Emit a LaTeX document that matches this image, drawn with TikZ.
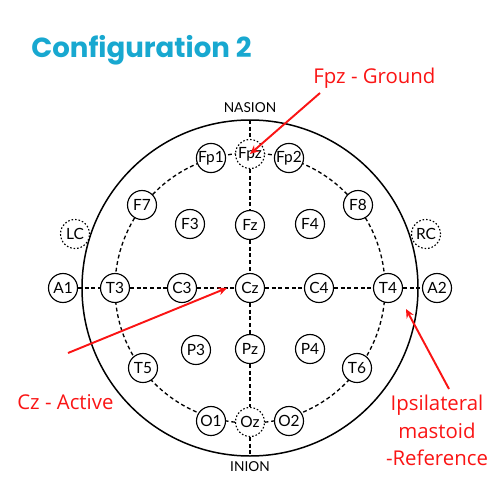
\documentclass[tikz,border=0pt]{standalone}
\usepackage{fontspec}
\setmainfont{Lato}
\newfontfamily\titlefont{Poppins}
\newfontfamily\notefont{Open Sans}
\usetikzlibrary{arrows.meta}
\definecolor{titleblue}{RGB}{24,168,208}
\definecolor{notered}{RGB}{250,20,20}

\begin{document}
\begin{tikzpicture}[x=0.02cm, y=-0.02cm, >={Stealth[length=5pt,width=4.5pt]}]

		\useasboundingbox (0,0) rectangle (500,500);
		\tikzset{
			electrode/.style={circle, draw=black, line width=0.65pt, fill=white, minimum size=0.58cm, inner sep=0pt, font=\fontsize{8.8}{10}\selectfont},
			ghost/.style={electrode, dash pattern=on 0.9pt off 1.1pt},
			grid line/.style={line width=0.75pt, dash pattern=on 2.2pt off 1.6pt},
			pointer/.style={->, draw=notered, line width=1.1pt},
			note/.style={text=notered, font=\notefont\fontsize{11.6}{15.6}\selectfont, inner sep=0pt}
		}

		% Title
		\node[anchor=base west, inner sep=0pt, text=titleblue, font=\titlefont\bfseries\fontsize{15.7}{18}\selectfont] (title) at (31, 58) {Configuration 2};

		% The head and the 10-20 circle
		\coordinate (centre) at (250, 288);
		\coordinate (top) at (250, 120);
		\coordinate (bottom) at (250, 456);
		\draw[line width=0.85pt] (centre) circle (168);
		\draw[grid line] (centre) circle (135);

		\node[font=\fontsize{7.8}{9}\selectfont] (nasion) at (250, 108) {NASION};
		\node[font=\fontsize{7.8}{9}\selectfont] (inion)  at (250, 467) {INION};

		% Electrodes
		\node[ghost]     (Fpz) at (250, 154) {Fpz};
		\node[electrode] (Fp1) at (211, 158) {Fp1};
		\node[electrode] (Fp2) at (289, 158) {Fp2};

		\node[electrode] (F7) at (142, 205) {F7};
		\node[electrode] (F3) at (190, 224) {F3};
		\node[electrode] (Fz) at (250, 225) {Fz};
		\node[electrode] (F4) at (310, 224) {F4};
		\node[electrode] (F8) at (358, 205) {F8};
		\node[ghost]     (LC) at (75, 234)  {LC};
		\node[ghost]     (RC) at (426, 234) {RC};

		\node[electrode] (A1) at (63, 288)  {A1};
		\node[electrode] (T3) at (115, 288) {T3};
		\node[electrode] (C3) at (182, 288) {C3};
		\node[electrode] (Cz) at (250, 288) {Cz};
		\node[electrode] (C4) at (319, 288) {C4};
		\node[electrode] (T4) at (388, 288) {T4};
		\node[electrode] (A2) at (437, 288) {A2};

		\node[electrode] (P3) at (196, 350) {P3};
		\node[electrode] (Pz) at (250, 349) {Pz};
		\node[electrode] (P4) at (310, 349) {P4};
		\node[electrode] (T5) at (143, 368) {T5};
		\node[electrode] (T6) at (357, 368) {T6};

		\node[electrode] (O1) at (211, 421) {O1};
		\node[ghost]     (Oz) at (250, 422) {Oz};
		\node[electrode] (O2) at (289, 421) {O2};

		% Midlines
		\foreach \a/\b in {top/Fpz, Fpz/Fz, Fz/Cz, Cz/Pz, Pz/Oz, Oz/bottom,
			A1/T3, T3/C3, C3/Cz, Cz/C4, C4/T4, T4/A2}
			\draw[grid line] (\a) -- (\b);

		% Notes
		\node[note, anchor=base west] (ground) at (313, 84) {Fpz - Ground};
		\node[note, anchor=base west] (active) at (17, 409) {Cz - Active};
		\node[note, anchor=north, align=center] (reference) at (437, 395) {Ipsilateral\\mastoid\\-Reference};

		\coordinate (ground tail) at (320, 93);
		\coordinate (active tail) at (68, 353);
		\coordinate (active tip)  at (227, 288);
		\coordinate (ref tail)    at (449, 389);
		\coordinate (ref tip)     at (406, 309);

		\draw[pointer] (ground tail) -- (Fpz.center);
		\draw[pointer] (active tail) -- (active tip);
		\draw[pointer] (ref tail) -- (ref tip);

\end{tikzpicture}
\end{document}
